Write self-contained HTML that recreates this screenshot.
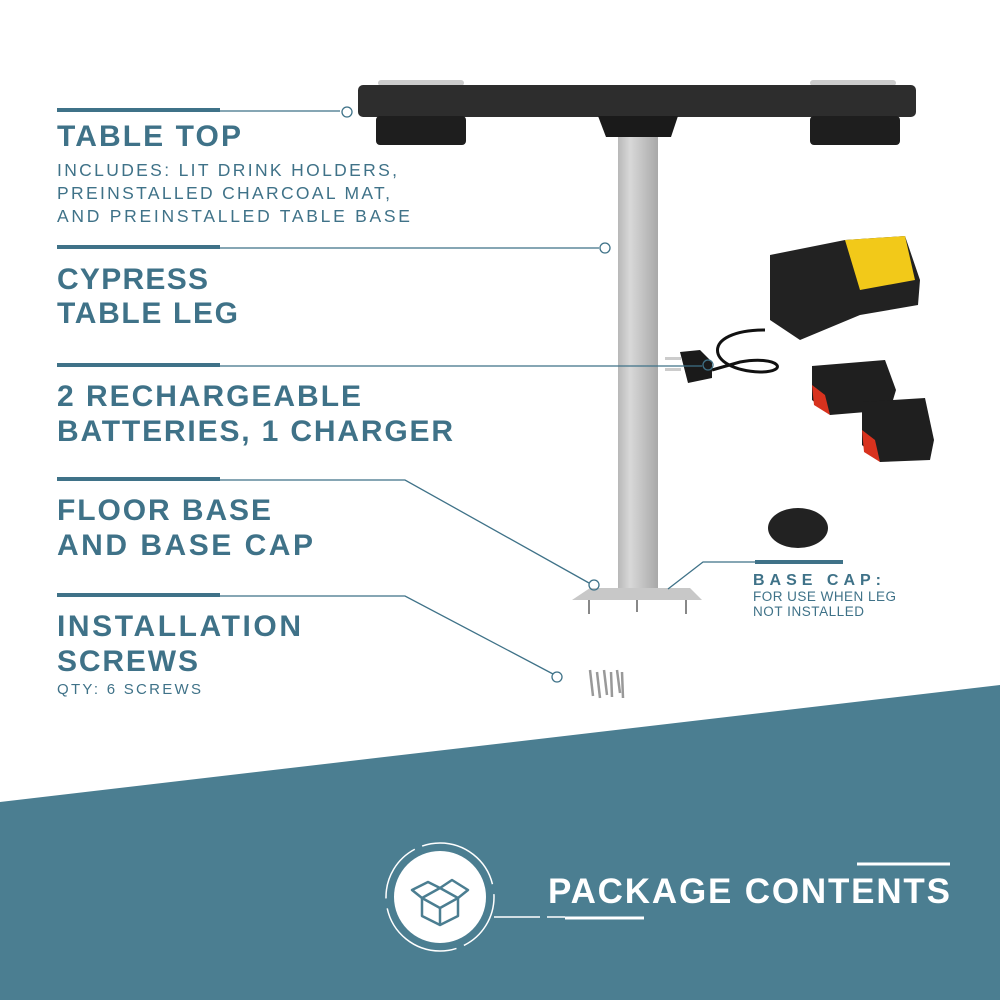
<!DOCTYPE html>
<html><head><style>
html,body{margin:0;padding:0;background:#fff}
svg{display:block}
text{font-family:"Liberation Sans",sans-serif;fill:#3f7288}
.h{font-size:30px;font-weight:bold}
.s{font-size:17.5px}
</style></head><body>
<svg width="1000" height="1000" viewBox="0 0 1000 1000" xmlns="http://www.w3.org/2000/svg">
<defs>
<linearGradient id="leg" x1="0" x2="1">
<stop offset="0" stop-color="#b8b8b8"/><stop offset="0.3" stop-color="#d8d8d8"/><stop offset="0.6" stop-color="#c4c4c4"/><stop offset="1" stop-color="#a8a8a8"/>
</linearGradient>
</defs>
<polygon points="0,802 1000,685 1000,1000 0,1000" fill="#4b7e91"/>

<rect x="618" y="135" width="40" height="455" fill="url(#leg)"/>
<polygon points="590,588 690,588 702,600 572,600" fill="#c8c8c8"/>
<line x1="589" y1="600" x2="589" y2="614" stroke="#888" stroke-width="2"/>
<line x1="637" y1="600" x2="637" y2="612" stroke="#888" stroke-width="2"/>
<line x1="686" y1="600" x2="686" y2="614" stroke="#888" stroke-width="2"/>

<rect x="378" y="80" width="86" height="6" rx="3" fill="#ccc"/>
<rect x="810" y="80" width="86" height="6" rx="3" fill="#ccc"/>
<rect x="358" y="85" width="558" height="32" rx="5" fill="#2d2d2d"/>
<rect x="376" y="116" width="90" height="29" rx="4" fill="#1e1e1e"/>
<rect x="810" y="116" width="90" height="29" rx="4" fill="#1e1e1e"/>
<polygon points="598,116 678,116 671,137 606,137" fill="#1a1a1a"/>

<path d="M770 255 L845 240 L905 236 L920 280 L918 305 L860 315 L800 340 L770 320 Z" fill="#222"/>
<path d="M845 240 L905 236 L915 280 L860 290 Z" fill="#f2c919"/>
<path d="M765 330 C700 330 705 370 760 372 C790 372 780 355 740 362 L712 370" fill="none" stroke="#111" stroke-width="3"/>
<path d="M680 352 L700 350 L712 362 L712 378 L688 383 Z" fill="#1a1a1a"/>
<rect x="665" y="357" width="16" height="3" fill="#ccc"/><rect x="665" y="368" width="16" height="3" fill="#ccc"/>
<path d="M812 366 L885 360 L896 390 L890 410 L830 415 L812 400 Z" fill="#1f1f1f"/>
<path d="M812 385 L825 395 L830 415 L814 405 Z" fill="#d8321e"/>
<path d="M862 402 L925 398 L934 440 L930 460 L880 462 L862 445 Z" fill="#1f1f1f"/>
<path d="M862 430 L875 440 L880 462 L864 452 Z" fill="#d8321e"/>
<ellipse cx="798" cy="528" rx="30" ry="20" fill="#222"/>
<g stroke="#999" stroke-width="2.5">
<line x1="590" y1="670" x2="593" y2="696"/><line x1="597" y1="672" x2="600" y2="698"/><line x1="604" y1="670" x2="607" y2="695"/><line x1="611" y1="672" x2="612" y2="697"/><line x1="617" y1="670" x2="620" y2="693"/><line x1="622" y1="672" x2="623" y2="698"/>
</g>

<g stroke="#3f7288" fill="none">
<line x1="57" y1="110" x2="220" y2="110" stroke-width="4"/>
<polyline points="220,111 340,111" stroke-width="1.3"/>
<circle cx="347" cy="112" r="5" stroke-width="1.3"/>
<line x1="57" y1="247" x2="220" y2="247" stroke-width="4"/>
<line x1="220" y1="248" x2="599" y2="248" stroke-width="1.3"/>
<circle cx="605" cy="248" r="5" stroke-width="1.3"/>
<line x1="57" y1="365" x2="220" y2="365" stroke-width="4"/>
<line x1="220" y1="366" x2="702" y2="366" stroke-width="1.3"/>
<circle cx="708" cy="365" r="5" stroke-width="1.3"/>
<line x1="57" y1="479" x2="220" y2="479" stroke-width="4"/>
<polyline points="220,480 405,480 589,583" stroke-width="1.3"/>
<circle cx="594" cy="585" r="5" stroke-width="1.3"/>
<line x1="57" y1="595" x2="220" y2="595" stroke-width="4"/>
<polyline points="220,596 405,596 553,674" stroke-width="1.3"/>
<circle cx="557" cy="677" r="5" stroke-width="1.3"/>
<polyline points="668,589 703,562 755,562" stroke-width="1.3"/>
<line x1="755" y1="562" x2="843" y2="562" stroke-width="4"/>
</g>

<text class="h" x="57" y="146" textLength="184" lengthAdjust="spacing">TABLE TOP</text>
<text class="s" x="57" y="176" textLength="340" lengthAdjust="spacing">INCLUDES: LIT DRINK HOLDERS,</text>
<text class="s" x="57" y="199" textLength="333" lengthAdjust="spacing">PREINSTALLED CHARCOAL MAT,</text>
<text class="s" x="57" y="222" textLength="353" lengthAdjust="spacing">AND PREINSTALLED TABLE BASE</text>
<text class="h" x="57" y="289" textLength="151" lengthAdjust="spacing">CYPRESS</text>
<text class="h" x="57" y="323" textLength="181" lengthAdjust="spacing">TABLE LEG</text>
<text class="h" x="57" y="406" textLength="304" lengthAdjust="spacing">2 RECHARGEABLE</text>
<text class="h" x="57" y="441" textLength="396" lengthAdjust="spacing">BATTERIES, 1 CHARGER</text>
<text class="h" x="57" y="520" textLength="214" lengthAdjust="spacing">FLOOR BASE</text>
<text class="h" x="57" y="555" textLength="256" lengthAdjust="spacing">AND BASE CAP</text>
<text class="h" x="57" y="636" textLength="244" lengthAdjust="spacing">INSTALLATION</text>
<text class="h" x="57" y="671" textLength="141" lengthAdjust="spacing">SCREWS</text>
<text class="s" x="57" y="694" style="font-size:15px" textLength="144" lengthAdjust="spacing">QTY: 6 SCREWS</text>
<text x="753" y="585" style="font-size:16px;font-weight:bold" textLength="128" lengthAdjust="spacing">BASE CAP:</text>
<text x="753" y="601" style="font-size:13.5px" textLength="143" lengthAdjust="spacing">FOR USE WHEN LEG</text>
<text x="753" y="616" style="font-size:13.5px" textLength="111" lengthAdjust="spacing">NOT INSTALLED</text>

<circle cx="440" cy="897" r="46" fill="#fff"/>
<circle cx="440" cy="897" r="54" fill="none" stroke="#fff" stroke-width="1.5" stroke-dasharray="60 8 90 10"/>
<g fill="none" stroke="#4b7e91" stroke-width="2.5" stroke-linejoin="round">
<path d="M422 898 L440 888 L458 898 L440 908 Z"/>
<path d="M422 898 L422 916 L440 925 L458 916 L458 898"/>
<line x1="440" y1="908" x2="440" y2="925"/>
<path d="M422 898 L412 890 L428 882 L440 888"/>
<path d="M440 888 L452 880 L468 890 L458 898"/>
</g>
<line x1="494" y1="917" x2="540" y2="917" stroke="#fff" stroke-width="1.5"/>
<line x1="547" y1="917" x2="565" y2="917" stroke="#fff" stroke-width="1.5"/>
<line x1="565" y1="918" x2="644" y2="918" stroke="#fff" stroke-width="3"/>
<line x1="857" y1="864" x2="950" y2="864" stroke="#fff" stroke-width="3"/>
<text x="548" y="903" style="fill:#fff;font-size:35px;font-weight:bold" textLength="402" lengthAdjust="spacing">PACKAGE CONTENTS</text>
</svg>
</body></html>
